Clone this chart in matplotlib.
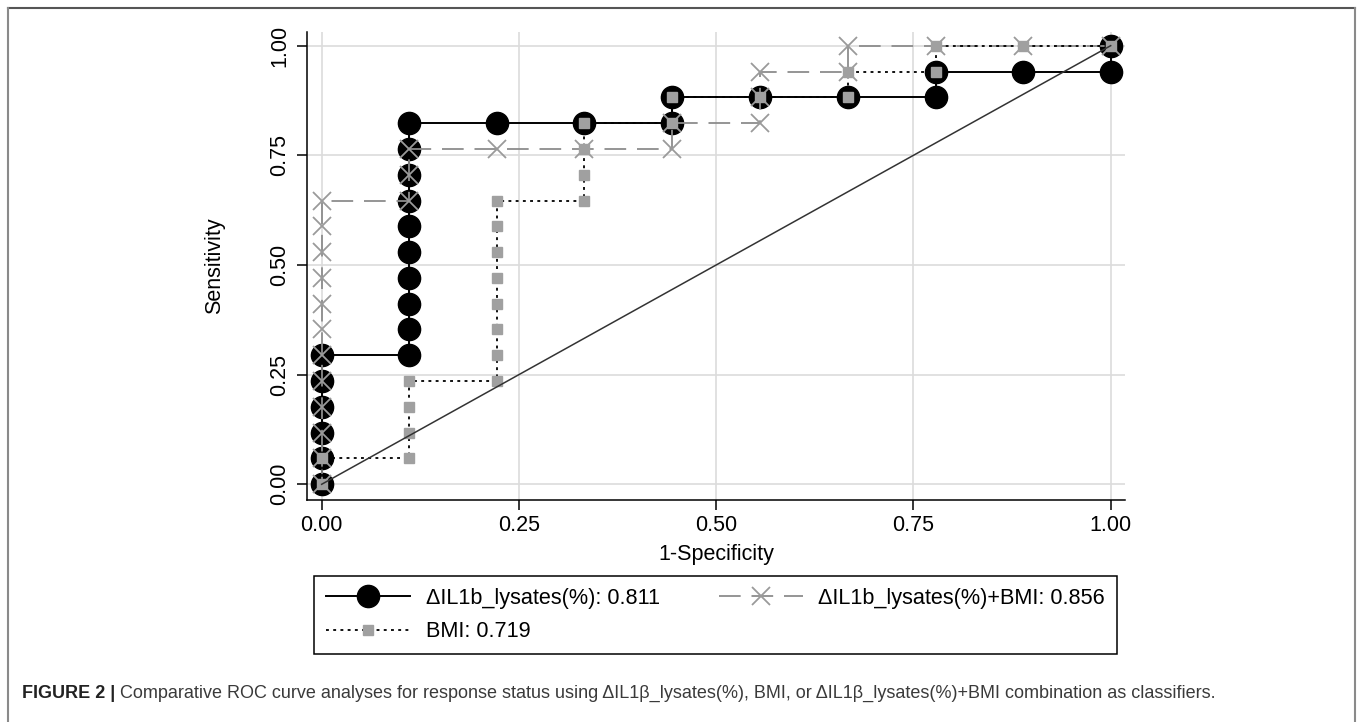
"""
ROC curve comparison (Figure 2 style)
"""

import matplotlib
matplotlib.use('Agg')
import matplotlib.pyplot as plt
from matplotlib.lines import Line2D

plt.rcParams['font.family'] = ['Liberation Sans', 'DejaVu Sans']

# 1-Specificity / Sensitivity pairs
il1b_x = [0.0, 0.0, 0.0, 0.0, 0.0, 0.0,
          0.111, 0.111, 0.111, 0.111, 0.111, 0.111, 0.111, 0.111, 0.111, 0.111,
          0.222, 0.333, 0.444, 0.444, 0.556, 0.667, 0.778, 0.778, 0.889, 1.0, 1.0]
il1b_y = [0.0, 0.059, 0.118, 0.176, 0.235, 0.294,
          0.294, 0.353, 0.412, 0.471, 0.529, 0.588, 0.647, 0.706, 0.765, 0.824,
          0.824, 0.824, 0.824, 0.882, 0.882, 0.882, 0.882, 0.941, 0.941, 0.941, 1.0]

combo_x = [0.0, 0.0, 0.0, 0.0, 0.0, 0.0, 0.0, 0.0, 0.0, 0.0, 0.0, 0.0,
           0.111, 0.111, 0.111,
           0.222, 0.333, 0.444, 0.444,
           0.556, 0.556, 0.556,
           0.667, 0.667, 0.778, 0.889, 1.0]
combo_y = [0.0, 0.059, 0.118, 0.176, 0.235, 0.294, 0.353, 0.412, 0.471, 0.529, 0.588, 0.647,
           0.647, 0.706, 0.765,
           0.765, 0.765, 0.765, 0.824,
           0.824, 0.882, 0.941,
           0.941, 1.0, 1.0, 1.0, 1.0]

bmi_x = [0.0, 0.0,
         0.111, 0.111, 0.111, 0.111,
         0.222, 0.222, 0.222, 0.222, 0.222, 0.222, 0.222, 0.222,
         0.333, 0.333, 0.333, 0.333,
         0.444, 0.444,
         0.556, 0.667, 0.667,
         0.778, 0.778, 0.889, 1.0]
bmi_y = [0.0, 0.059,
         0.059, 0.118, 0.176, 0.235,
         0.235, 0.294, 0.353, 0.412, 0.471, 0.529, 0.588, 0.647,
         0.647, 0.706, 0.765, 0.824,
         0.824, 0.882,
         0.882, 0.882, 0.941,
         0.941, 1.0, 1.0, 1.0]

labels = ['\u0394IL1b_lysates(%): 0.811',
          '\u0394IL1b_lysates(%)+BMI: 0.856',
          'BMI: 0.719']
ticks = [0.0, 0.25, 0.5, 0.75, 1.0]
tick_labels = ['0.00', '0.25', '0.50', '0.75', '1.00']

caption_bold = 'FIGURE 2 | '
caption_text = ('Comparative ROC curve analyses for response status using '
                '\u0394IL1\u03b2_lysates(%), BMI, or \u0394IL1\u03b2_lysates(%)+BMI '
                'combination as classifiers.')

W, H = 1357, 722
fig = plt.figure(figsize=(W / 100, H / 100), dpi=100)
ax = fig.add_axes([0.2260, 0.3075, 0.8290 - 0.2260, 0.9561 - 0.3075])

# grid
for t in ticks:
    ax.axhline(t, color='#dcdcdc', lw=1.2, zorder=0)
    ax.axvline(t, color='#dcdcdc', lw=1.2, zorder=0)

h1, = ax.plot(il1b_x, il1b_y, '-', color='black', lw=1.4,
              marker='o', ms=16, mfc='black', mec='black', zorder=3)
h2, = ax.plot(combo_x, combo_y, color='#8c8c8c', lw=1.3, dashes=(12, 6),
              marker='x', ms=12.5, mew=1.3, mec='#9a9a9a', zorder=4)
h3, = ax.plot(bmi_x, bmi_y, color='black', lw=1.3, dashes=(1.6, 2.4),
              marker='s', ms=6.5, mfc='#a0a0a0', mec='#a0a0a0', zorder=5)

# reference line
ax.plot([0, 1], [0, 1], color='#333333', lw=1.1, zorder=6)

ax.set_xlim(-0.0190, 1.0181)
ax.set_ylim(-0.0358, 1.0319)
ax.set_xticks(ticks)
ax.set_yticks(ticks)
ax.set_xticklabels(tick_labels, fontsize=15.5)
ax.set_yticklabels(tick_labels, fontsize=15.5, rotation=90, va='center')
ax.tick_params(axis='both', direction='out', length=7, width=1.1, color='black')
ax.tick_params(axis='x', pad=4)
ax.tick_params(axis='y', pad=5)

for s in ['top', 'right']:
    ax.spines[s].set_visible(False)
for s in ['left', 'bottom']:
    ax.spines[s].set_linewidth(1.1)

ax.set_xlabel('1-Specificity', fontsize=15.5)
ax.set_ylabel('Sensitivity', fontsize=15.5)
ax.xaxis.set_label_coords(0.5, -0.095)
ax.yaxis.set_label_coords(-0.100, 0.5)

# legend, box from x 314..1117, y 576..653 px
leg = fig.legend([h1, h3, h2], [labels[0], labels[2], labels[1]],
                 ncol=2, loc='upper left', mode='expand',
                 bbox_to_anchor=(314 / W, 1 - 653 / H, (1117 - 314) / W, (653 - 576) / H),
                 fontsize=15.6, handlelength=3.9, handletextpad=0.7,
                 numpoints=1, labelspacing=0.58, borderpad=0.55,
                 fancybox=False, framealpha=1, edgecolor='black', borderaxespad=0)
leg.get_frame().set_linewidth(1.1)

# outer frame
fig.add_artist(Line2D([8 / W, 1355 / W], [1 - 8 / H, 1 - 8 / H],
                      transform=fig.transFigure, color='#555555', lw=1.5))
fig.add_artist(Line2D([8 / W, 8 / W], [0, 1 - 8 / H],
                      transform=fig.transFigure, color='#8a8a8a', lw=1.5))
fig.add_artist(Line2D([1355 / W, 1355 / W], [0, 1 - 8 / H],
                      transform=fig.transFigure, color='#8a8a8a', lw=1.5))

# caption
t1 = fig.text(22 / W, 1 - 693 / H, caption_bold, fontsize=13.0,
              fontweight='bold', color='#222222', va='center')
fig.canvas.draw()
bb = t1.get_window_extent(renderer=fig.canvas.get_renderer())
fig.text(bb.x1 / fig.bbox.width, 1 - 693 / H, caption_text, fontsize=13.0,
         color='#3a3a3a', va='center')

fig.savefig('out.png', dpi=100)
